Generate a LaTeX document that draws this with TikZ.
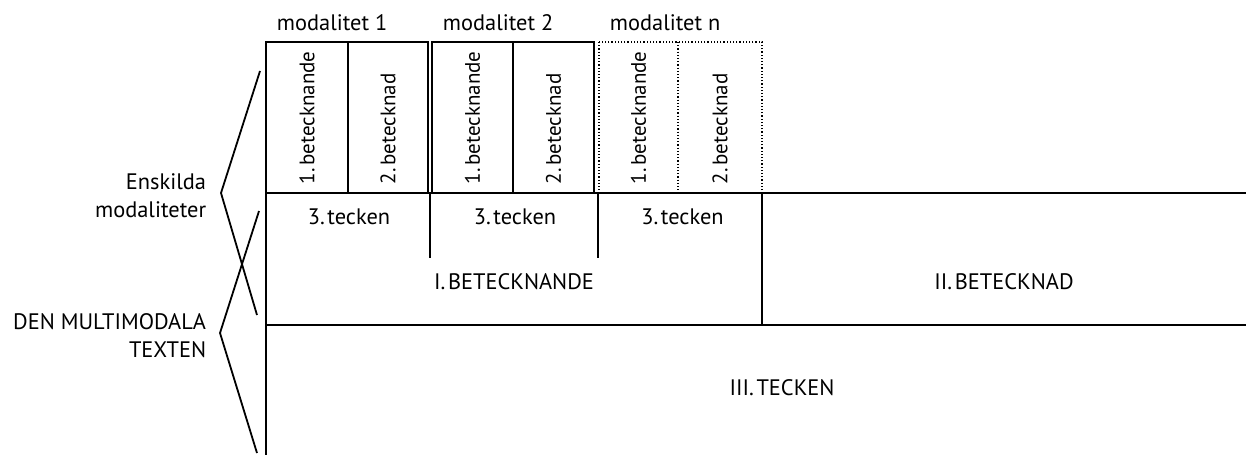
\documentclass[tikz,border=0pt]{standalone}
\usepackage{fontspec}
\setmainfont{PT Sans}
\newcommand{\tsp}{\hspace{0.12em}}
\begin{document}
\begin{tikzpicture}[x=0.5pt,y=-0.5pt,line width=0.9pt] \fontsize{11.2}{14}\selectfont
\useasboundingbox (0,0) rectangle (1246,455);
\tikzset{vtext/.style={rotate=90,anchor=west,inner sep=0pt,font=\fontsize{10.5}{12}\selectfont},
  modfast/.style={solid},
  modoppen/.style={densely dotted,line width=0.6pt}}
% de enskilda modaliteterna
\foreach \i/\l/\m/\r/\n/\s in {1/266/348/428/1/modfast, 2/432/513/594/2/modfast, 3/599/678/762/n/modoppen} {
  \draw[\s] (\l,42) rectangle (\r,193);
  \draw[\s] (\m,42)--(\m,193);
  \node[anchor=west,inner sep=0pt] (mod\i) at (\l+10,23) {modalitet \n};
  \node[vtext] (bnde\i) at ({(\l+\m)/2},185) {1.\tsp betecknande};
  \node[vtext] (bnad\i) at ({(\m+\r)/2},185) {2.\tsp betecknad};
  \node (teck\i) at ({(\l+\r)/2+2},217) {3.\tsp tecken};
}
\draw[line width=1.3pt] (266,42)--(266,455);
\draw[line width=1.3pt] (266,193)--(1246,193);
\draw[line width=1.3pt] (266,325)--(1246,325);
\draw (430,193)--(430,258);
\draw (598,193)--(598,258);
\draw (762,193)--(762,325);
\node (bnde) at (514,282) {I.\tsp BETECKNANDE};
\node (bnad) at (1004,282) {II.\tsp BETECKNAD};
\node (teck) at (782,388) {III.\tsp TECKEN};
% vänstra sidan
\node[anchor=east,align=right,inner sep=0pt] (ensk) at (207,196) {Enskilda\\modaliteter};
\node[anchor=east,align=right,inner sep=0pt] (dmt) at (207,336) {DEN MULTIMODALA\\TEXTEN};
\coordinate (a1) at (260,71); \coordinate (a2) at (221,193); \coordinate (a3) at (257,315);
\coordinate (b1) at (259,211); \coordinate (b2) at (220,333); \coordinate (b3) at (257,453);
\draw (a1)--(a2)--(a3);
\draw (b1)--(b2)--(b3);
\end{tikzpicture}
\end{document}
